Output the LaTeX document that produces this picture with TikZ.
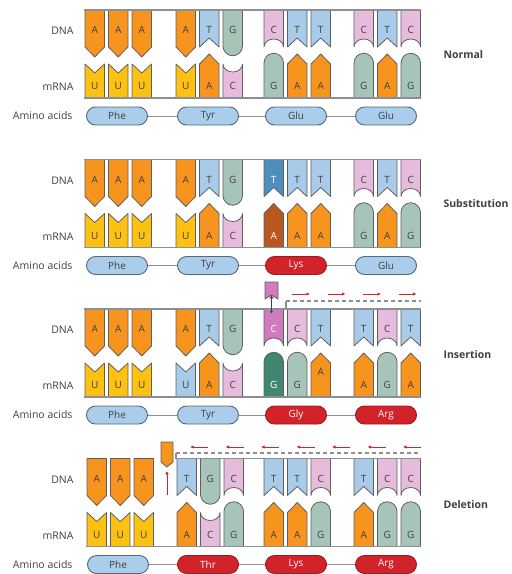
\documentclass[tikz,border=0pt]{standalone}
\usepackage{fontspec}
\setmainfont{Open Sans}
\usetikzlibrary{arrows.meta}
\definecolor{baseA}   {HTML}{F7941D}
\definecolor{baseT}   {HTML}{A8CBE9}
\definecolor{baseG}   {HTML}{A6C5B8}
\definecolor{baseC}   {HTML}{E6BBDC}
\definecolor{baseU}   {HTML}{FDC113}
\definecolor{edgeGray}{HTML}{5F5F5F}
\definecolor{lineGray}{HTML}{8C9096}
\definecolor{acidBlue}{HTML}{A9CDEB}
\definecolor{acidEdge}{HTML}{56687A}
\definecolor{mutRed}  {HTML}{D2232A}
\definecolor{darkT}   {HTML}{4E8EBC}
\definecolor{darkA}   {HTML}{B8571E}
\definecolor{darkG}   {HTML}{3F8770}
\definecolor{insC}    {HTML}{D07BBF}
\def\rnaY{76}
\tikzset{
  font=\fontsize{10.5}{12}\selectfont,
  base/.style={draw=edgeGray,line width=0.8pt,line join=round},
  hl/.style={},
  tint/.style={hl/.style={fill=#1}},
  hilite/.style={hl/.style={fill=#1},text=white},
  raised/.code={\def\rnaY{63}},
  ltr/.style={font=\fontsize{10}{12}\selectfont,inner sep=0pt},
  backbone/.style={draw=lineGray,line width=1.3pt},
  shifted/.style={draw=lineGray,line width=1.3pt,dash pattern=on 4pt off 3pt},
  link/.style={draw=lineGray,line width=0.9pt},
  frame/.style={-{Latex[length=3.5pt,width=3.5pt]},draw=mutRed,line width=0.8pt},
  acid/.style={rectangle,rounded corners=9pt,draw=acidEdge,line width=0.9pt,fill=acidBlue,
    minimum width=61pt,minimum height=18pt,inner sep=0pt,font=\fontsize{10}{12}\selectfont},
  mut/.style={acid,fill=mutRed,draw=mutRed!75!black,text=white},
  strand/.style={anchor=east},
  kind/.style={anchor=west,font=\fontsize{10.5}{12}\selectfont\bfseries},
  % DNA bases hang from the top backbone
  pics/dnaA/.style={code={\draw[base,fill=baseA,hl] (0,0) -- (0,37) -- (9.75,47) -- (19.5,37) -- (19.5,0) -- cycle;
    \node[ltr] at (9.75,20) {A};}},
  pics/dnaT/.style={code={\draw[base,fill=baseT,hl] (0,0) -- (0,37) -- (9.75,28) -- (19.5,37) -- (19.5,0) -- cycle;
    \node[ltr] at (9.75,20) {T};}},
  pics/dnaG/.style={code={\draw[base,fill=baseG,hl] (0,0) -- (0,36) arc[start angle=180,end angle=0,radius=9.75] -- (19.5,0) -- cycle;
    \node[ltr] at (9.75,20) {G};}},
  pics/dnaC/.style={code={\draw[base,fill=baseC,hl] (0,0) -- (0,37) arc[start angle=180,end angle=360,x radius=9.75,y radius=8] -- (19.5,0) -- cycle;
    \node[ltr] at (9.75,20) {C};}},
  % mRNA bases stand on the bottom backbone
  pics/rnaU/.style={code={\draw[base,fill=baseU,hl] (0,88) -- (0,54) -- (9.75,63) -- (19.5,54) -- (19.5,88) -- cycle;
    \node[ltr] at (9.75,\rnaY) {U};}},
  pics/rnaA/.style={code={\draw[base,fill=baseA,hl] (0,88) -- (0,54) -- (9.75,44) -- (19.5,54) -- (19.5,88) -- cycle;
    \node[ltr] at (9.75,\rnaY) {A};}},
  pics/rnaG/.style={code={\draw[base,fill=baseG,hl] (0,88) -- (0,53) arc[start angle=180,end angle=360,radius=9.75] -- (19.5,88) -- cycle;
    \node[ltr] at (9.75,\rnaY) {G};}},
  pics/rnaC/.style={code={\draw[base,fill=baseC,hl] (0,88) -- (0,54) arc[start angle=180,end angle=0,x radius=9.75,y radius=8] -- (19.5,88) -- cycle;
    \node[ltr] at (9.75,\rnaY) {C};}},
}

\begin{document}
\begin{tikzpicture}[x=1pt,y=-1pt,text=black!75]
\useasboundingbox (0,0) rectangle (512,574);

% --- normal
\begin{scope}[shift={(0,10)}]
\foreach \x/\b in {85/A,108.5/A,132/A,176/A,199.5/T,223/G,264/C,287.5/T,311/T,354/C,377.5/T,401/C}
  \pic at (\x,0) {dna\b};
\foreach \x/\b in {85/U,108.5/U,132/U,176/U,199.5/A,223/C,264/G,287.5/A,311/A,354/G,377.5/A,401/G}
  \pic at (\x,0) {rna\b};
\draw[backbone] (84,0) -- (421,0);
\draw[backbone] (84,88) -- (421,88);
\node[strand] (nDNA) at (77,21) {DNA};
\node[strand] (nRNA) at (77,77) {mRNA};
\node[strand] (nAcid) at (76,106) {Amino acids};
\node[acid] (nPhe) at (117,106) {Phe};
\node[acid] (nTyr) at (208,106) {Tyr};
\node[acid] (nGlu) at (296,106) {Glu};
\node[acid] (nGlu2) at (386,106) {Glu};
\draw[link] (nPhe.east) -- (nTyr.west);
\draw[link] (nTyr.east) -- (nGlu.west);
\draw[link] (nGlu.east) -- (nGlu2.west);
\node[kind] (nKind) at (440,45) {Normal};
\end{scope}

% --- substitution
\begin{scope}[shift={(0,159.5)}]
\foreach \x/\b in {85/A,108.5/A,132/A,176/A,199.5/T,223/G,287.5/T,311/T,354/C,377.5/T,401/C}
  \pic at (\x,0) {dna\b};
\pic[hilite=darkT] at (264,0) {dnaT};
\foreach \x/\b in {85/U,108.5/U,132/U,176/U,199.5/A,223/C,287.5/A,311/A,354/G,377.5/A,401/G}
  \pic at (\x,0) {rna\b};
\pic[hilite=darkA] at (264,0) {rnaA};
\draw[backbone] (84,0) -- (421,0);
\draw[backbone] (84,88) -- (421,88);
\node[strand] (sDNA) at (77,21) {DNA};
\node[strand] (sRNA) at (77,77) {mRNA};
\node[strand] (sAcid) at (76,106) {Amino acids};
\node[acid] (sPhe) at (117,106) {Phe};
\node[acid] (sTyr) at (208,106) {Tyr};
\node[mut] (sLys) at (296,106) {Lys};
\node[acid] (sGlu) at (386,106) {Glu};
\draw[link] (sPhe.east) -- (sTyr.west);
\draw[link] (sTyr.east) -- (sLys.west);
\draw[link] (sLys.east) -- (sGlu.west);
\node[kind] (sKind) at (440,44) {Substitution};
\end{scope}

% --- insertion
\begin{scope}[shift={(0,309)}]
\foreach \x/\b in {85/A,108.5/A,132/A,176/A,199.5/T,223/G,287.5/C,311/T,354/T,377.5/C,401/T}
  \pic at (\x,0) {dna\b};
\pic[hilite=insC] at (264,0) {dnaC};
\foreach \x/\b in {85/U,108.5/U,132/U,199.5/A,223/C,287.5/G,354/A,377.5/G,401/A}
  \pic at (\x,0) {rna\b};
\pic[tint=baseT] at (176,0) {rnaU};
\pic[hilite=darkG] at (264,0) {rnaG};
\pic[raised] at (311,0) {rnaA};
\draw[backbone] (84,0) -- (421,0);
\draw[backbone] (84,88) -- (421,88);
% inserted nucleotide and the shifted frame
\draw[base,fill=insC] (265,-27) -- (265,-10) -- (271.5,-14) -- (278,-10) -- (278,-27) -- cycle;
\coordinate (iDot) at (271.5,4);
\coordinate (iTop) at (271.5,-14);
\draw[{Circle[length=2.5pt]}-{Stealth[length=4pt,width=4pt]},draw=black!75,line width=0.8pt] (iDot) -- (iTop);
\draw[backbone] (286,0) -- (286,-8);
\draw[shifted] (286,-8) -- (421,-8);
\foreach \x in {292,327.5,363,398.5}
  \draw[frame] (\x,-15) -- ++(18,0);
\node[strand] (iDNA) at (77,21) {DNA};
\node[strand] (iRNA) at (77,77) {mRNA};
\node[strand] (iAcid) at (76,106) {Amino acids};
\node[acid] (iPhe) at (117,106) {Phe};
\node[acid] (iTyr) at (208,106) {Tyr};
\node[mut] (iGly) at (296,106) {Gly};
\node[mut] (iArg) at (386,106) {Arg};
\draw[link] (iPhe.east) -- (iTyr.west);
\draw[link] (iTyr.east) -- (iGly.west);
\draw[link] (iGly.east) -- (iArg.west);
\node[kind] (iKind) at (440,46) {Insertion};
\end{scope}

% --- deletion
\begin{scope}[shift={(0,458.5)}]
\foreach \x/\b in {87/A,110.5/A,134/A,177/T,200.5/G,224/C,264/T,287.5/T,311/C,354/T,377.5/C,401/C}
  \pic at (\x,0) {dna\b};
\foreach \x/\b in {87/U,110.5/U,134/U,177/A,200.5/C,224/G,264/A,287.5/A,311/G,354/A,377.5/G,401/G}
  \pic at (\x,0) {rna\b};
\draw[backbone] (176,0) -- (421,0);
\draw[backbone] (86,88) -- (421,88);
% removed nucleotide and the shifted frame
\draw[base,fill=baseA] (161,-16.5) -- (161,3.5) -- (167,8.5) -- (173,3.5) -- (173,-16.5) -- cycle;
\coordinate (dLow) at (167,36.5);
\coordinate (dHigh) at (167,13.5);
\draw[-{Circle[length=3pt]},draw=mutRed,line width=0.8pt] (dLow) -- (dHigh);
\draw[backbone] (176,0) -- (176,-5.5);
\draw[shifted] (176,-5.5) -- (421,-5.5);
\foreach \k in {0,...,6}
  \draw[frame] ({208+35.5*\k},-11.5) -- ++(-18,0);
\node[strand] (dDNA) at (77,21) {DNA};
\node[strand] (dRNA) at (77,77) {mRNA};
\node[strand] (dAcid) at (76,106) {Amino acids};
\node[acid] (dPhe) at (118,106) {Phe};
\node[mut] (dThr) at (208,106) {Thr};
\node[mut] (dLys) at (296,106) {Lys};
\node[mut] (dArg) at (386,106) {Arg};
\draw[link] (dPhe.east) -- (dThr.west);
\draw[link] (dThr.east) -- (dLys.west);
\draw[link] (dLys.east) -- (dArg.west);
\node[kind] (dKind) at (440,46) {Deletion};
\end{scope}

\end{tikzpicture}
\end{document}
